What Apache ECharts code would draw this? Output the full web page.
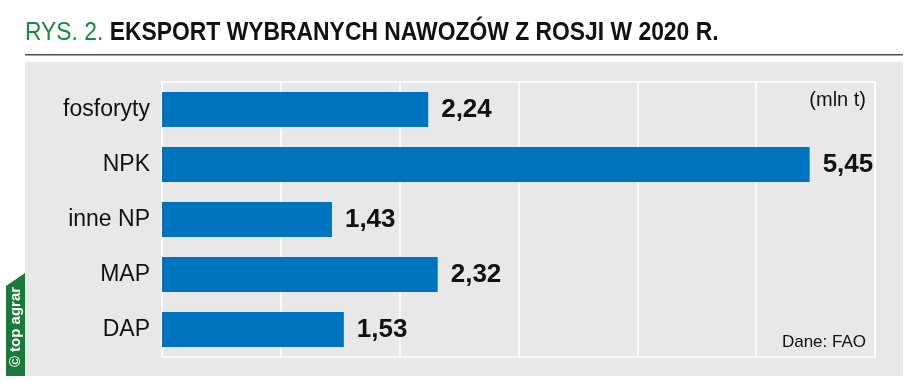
<!DOCTYPE html>
<html><head><meta charset="utf-8">
<script src="https://cdn.jsdelivr.net/npm/echarts@6/dist/echarts.min.js"></script>
<style>html,body{margin:0;padding:0;background:#fff;}#c{width:914px;height:392px;}</style>
</head><body><div id="c"></div>
<script>
const categories = ['fosforyty', 'NPK', 'inne NP', 'MAP', 'DAP'];
const values = [2.24, 5.45, 1.43, 2.32, 1.53];
const valueLabels = ['2,24', '5,45', '1,43', '2,32', '1,53'];
const titlePrefix = 'RYS. 2.';
const titleText = 'EKSPORT WYBRANYCH NAWOZÓW Z ROSJI W 2020 R.';
const unitText = '(mln t)';
const sourceText = 'Dane: FAO';
const brandText = '© top agrar';

const chart = echarts.init(document.getElementById('c'), null, {renderer: 'canvas'});
const F = 'Liberation Sans, Arial, sans-serif';
chart.setOption({
  animation: false,
  backgroundColor: '#fff',
  graphic: [
    {type: 'rect', shape: {x: 25, y: 62, width: 878, height: 314}, style: {fill: '#e8e8e8'}, z: -10},
    {type: 'rect', shape: {x: 25, y: 54, width: 878, height: 1.6}, style: {fill: '#4a4a4a'}},
    {type: 'text', x: 25, y: 46, scaleX: 0.915, style: {rich: {
      a: {fill: '#1b8a3f', fontSize: 25, fontFamily: F, fontWeight: 'normal'},
      b: {fill: '#111', fontSize: 25, fontFamily: F, fontWeight: 'bold'}
    }, text: '{a|' + titlePrefix + ' }{b|' + titleText + '}', verticalAlign: 'bottom'}},
    {type: 'polygon', shape: {points: [[6, 286], [25, 273], [25, 376], [6, 376]]}, style: {fill: '#1b7a3a'}},
    {type: 'text', x: 16, y: 327, rotation: Math.PI / 2, style: {text: brandText, fill: '#fff', fontSize: 15, fontWeight: 'bold', fontFamily: F, align: 'center', verticalAlign: 'middle'}},
    {type: 'text', right: 48, top: 90, style: {text: unitText, fill: '#111', fontSize: 20, fontFamily: F}},
    {type: 'text', right: 48, top: 334, style: {text: sourceText, fill: '#111', fontSize: 17, fontFamily: F}}
  ],
  grid: {left: 162, right: 39, top: 82, bottom: 35, show: true, borderColor: '#fff', borderWidth: 1.5, backgroundColor: 'transparent'},
  xAxis: {type: 'value', min: 0, max: 6, interval: 1,
    axisLabel: {show: false}, axisLine: {show: false}, axisTick: {show: false},
    splitLine: {show: true, lineStyle: {color: '#fff', width: 1.5}}},
  yAxis: {type: 'category', data: categories, inverse: true,
    axisLine: {show: false}, axisTick: {show: false},
    axisLabel: {color: '#111', fontSize: 23, fontFamily: F, margin: 12}},
  series: [{type: 'bar', data: values, barWidth: 35,
    itemStyle: {color: '#0073be'},
    label: {show: true, position: 'right', distance: 13, fontSize: 26, fontWeight: 'bold', color: '#111', fontFamily: F,
      formatter: p => valueLabels[p.dataIndex]}}]
});
</script></body></html>
